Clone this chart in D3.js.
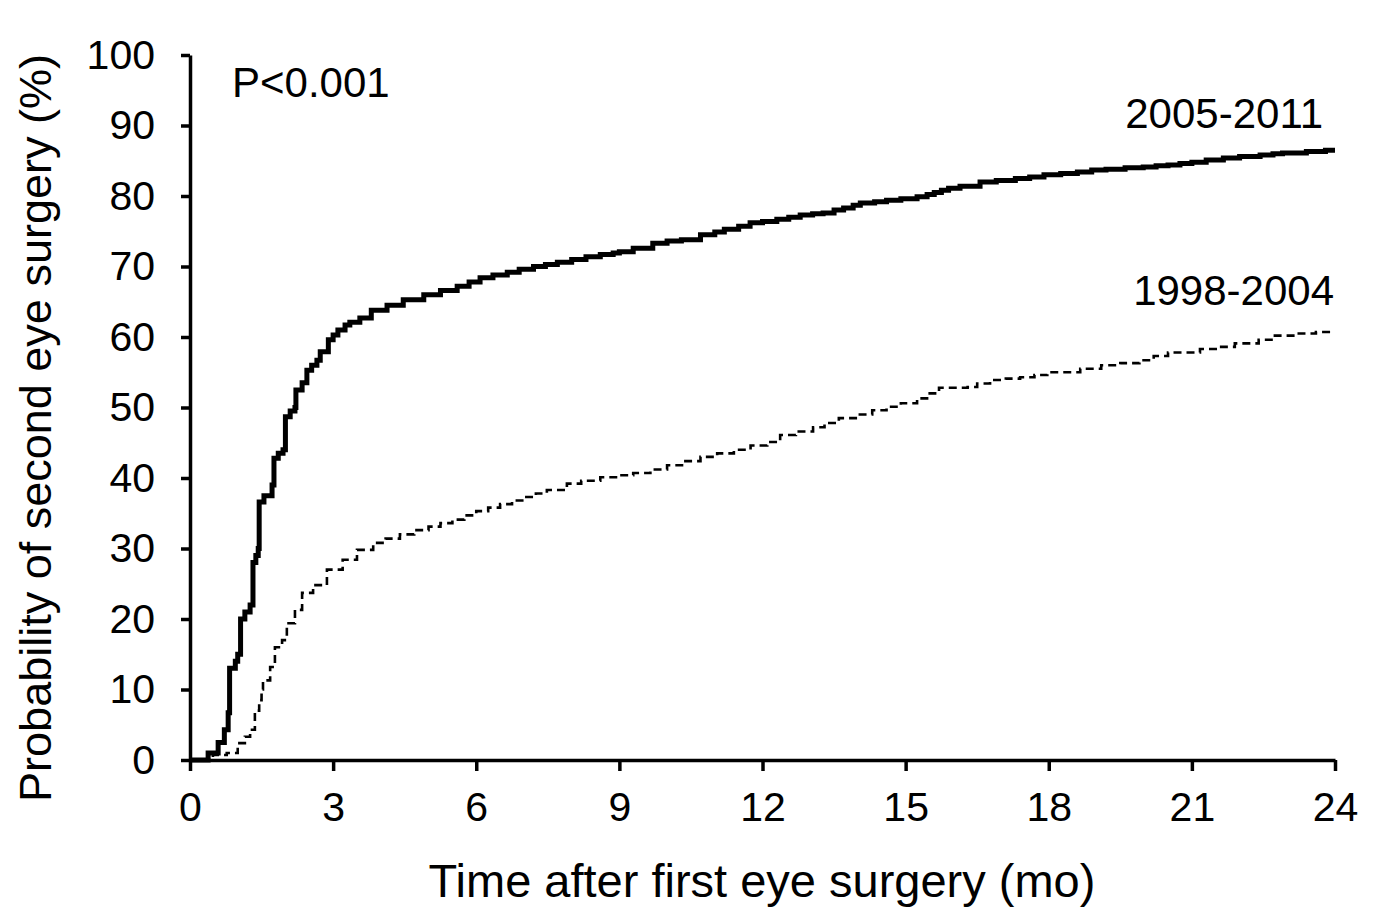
<!DOCTYPE html>
<html>
<head>
<meta charset="utf-8">
<script src="https://cdn.jsdelivr.net/npm/d3@7"></script>
<style>
  body{margin:0;background:#fff;}
  text{font-family:"Liberation Sans",Arial,sans-serif;fill:#000;}
</style>
</head>
<body>
<svg id="chart"></svg>
<script>
// 2005-2011 cohort (solid)
let recentTime=[0,0.3,0.38,0.59,0.72,0.8,0.83,0.95,1.0,1.06,1.15,1.26,1.32,1.38,1.43,1.45,1.55,1.72,1.76,1.85,1.95,2.0,2.1,2.2,2.22,2.35,2.45,2.55,2.66,2.73,2.9,3.0,3.1,3.25,3.35,3.56,3.8,4.13,4.47,4.9,5.25,5.6,5.85,6.08,6.35,6.65,6.9,7.2,7.45,7.7,8.0,8.3,8.6,8.87,9.0,9.29,9.7,10.0,10.3,10.7,11.0,11.2,11.5,11.74,12.0,12.3,12.55,12.79,13.05,13.27,13.5,13.7,13.9,14.05,14.35,14.6,14.9,15.24,15.45,15.6,15.75,15.9,16.14,16.56,16.9,17.3,17.6,17.9,18.25,18.6,18.9,19.2,19.6,19.98,20.25,20.5,20.75,21.0,21.3,21.66,22.0,22.43,22.7,22.9,23.4,23.8,24];
let recentProb=[0,0,1,2.5,4.3,6.7,13,14,15,20,21,22,28,29,30,36.6,37.5,39,42.8,43.5,44,48.7,49.5,50,52.5,53.5,55.3,56,56.7,57.9,59.6,60.3,61,61.7,62.1,62.7,63.8,64.5,65.3,66.0,66.6,67.2,67.8,68.4,68.8,69.2,69.6,70.0,70.3,70.6,71.0,71.4,71.7,71.9,72.1,72.6,73.3,73.6,73.8,74.5,74.9,75.3,75.7,76.2,76.4,76.7,77.0,77.3,77.5,77.6,78.0,78.3,78.7,79.0,79.2,79.4,79.6,79.9,80.2,80.5,80.8,81.1,81.4,82.0,82.2,82.5,82.7,83.0,83.2,83.4,83.7,83.8,84.0,84.1,84.3,84.4,84.6,84.8,85.1,85.4,85.6,85.8,86.0,86.1,86.3,86.5,86.5];

// 1998-2004 cohort (dashed)
let earlyTime=[0,0.3,0.48,0.77,1.0,1.15,1.26,1.36,1.45,1.5,1.53,1.68,1.78,1.93,2.03,2.2,2.35,2.58,2.87,3.2,3.5,3.84,4.1,4.4,4.7,5.0,5.25,5.5,5.75,6.0,6.25,6.5,6.75,7.0,7.25,7.48,7.9,8.2,8.6,9.0,9.29,9.65,10.0,10.35,10.7,11.05,11.4,11.75,12.1,12.37,12.7,13.06,13.3,13.6,14.0,14.3,14.6,14.9,15.24,15.45,15.7,16.3,16.5,16.77,17.1,17.4,17.7,17.97,18.66,19.1,19.5,19.9,20.2,20.5,21.17,21.5,21.9,22.4,22.7,23.2,23.6,24];
let earlyProb=[0,0,0.7,1,2.4,3.3,4.3,7,8.5,10,11.3,13.2,16,17,19.4,21.3,23.7,24.8,27,28.4,29.8,30.8,31.4,32.0,32.6,33.1,33.6,34.1,34.7,35.3,35.8,36.3,36.8,37.3,37.8,38.3,39.2,39.6,40.1,40.4,40.7,41.2,41.8,42.4,43.0,43.5,44.0,44.6,45.1,46.1,46.6,47.2,47.8,48.5,49.0,49.6,50.1,50.6,51.3,52.0,52.8,52.9,53.4,53.9,54.1,54.3,54.6,55.0,55.5,56.0,56.3,56.7,57.3,57.8,58.3,58.6,59.1,59.6,60.2,60.5,60.7,60.7];

let xTicks=[0,3,6,9,12,15,18,21,24];
let yTicks=[0,10,20,30,40,50,60,70,80,90,100];

let width=1376;
let height=912;
let plotLeft=190, plotRight=1335, plotTop=55, plotBottom=760;

const svg=d3.select('#chart')
  .attr('width',width)
  .attr('height',height);

let xScale=d3.scaleLinear().domain([0,24]).range([plotLeft,plotRight]);
let yScale=d3.scaleLinear().domain([0,100]).range([plotBottom,plotTop]);

let toPoints=(ts,ps)=>ts.map((t,i)=>[t,ps[i]]);

let line=d3.line()
  .x(d=>xScale(d[0]))
  .y(d=>yScale(d[1]))
  .curve(d3.curveStepAfter);

// axes
let xAxis=d3.axisBottom(xScale).tickValues(xTicks).tickSize(11).tickSizeOuter(0).tickPadding(21);
let yAxis=d3.axisLeft(yScale).tickValues(yTicks).tickSize(9).tickSizeOuter(0).tickPadding(26);

let gx=svg.append('g')
  .attr('transform','translate(0,'+plotBottom+')')
  .call(xAxis);
let gy=svg.append('g')
  .attr('transform','translate('+plotLeft+',0)')
  .call(yAxis);

[gx,gy].forEach(g=>{
  g.select('.domain').attr('stroke','#000').attr('stroke-width',3.5);
  g.selectAll('.tick line').attr('stroke','#000').attr('stroke-width',3.5);
  g.selectAll('.tick text')
    .style('font-family','"Liberation Sans",Arial,sans-serif')
    .style('font-size','41px')
    .attr('fill','#000');
});

// curves
svg.append('path')
  .datum(toPoints(earlyTime,earlyProb))
  .attr('d',line)
  .attr('fill','none')
  .attr('stroke','#000')
  .attr('stroke-width',2.6)
  .attr('stroke-dasharray','8,5');

svg.append('path')
  .datum(toPoints(recentTime,recentProb))
  .attr('d',line)
  .attr('fill','none')
  .attr('stroke','#000')
  .attr('stroke-width',5);

// labels
svg.append('text')
  .attr('x',232).attr('y',97)
  .style('font-size','42px')
  .text('P<0.001');

svg.append('text')
  .attr('x',1323).attr('y',128)
  .attr('text-anchor','end')
  .style('font-size','42px')
  .text('2005-2011');

svg.append('text')
  .attr('x',1334).attr('y',305)
  .attr('text-anchor','end')
  .style('font-size','42px')
  .text('1998-2004');

svg.append('text')
  .attr('x',762).attr('y',897)
  .attr('text-anchor','middle')
  .style('font-size','47px')
  .text('Time after first eye surgery (mo)');

svg.append('text')
  .attr('transform','translate(51,428) rotate(-90)')
  .attr('text-anchor','middle')
  .style('font-size','45px')
  .text('Probability of second eye surgery (%)');
</script>
</body>
</html>
